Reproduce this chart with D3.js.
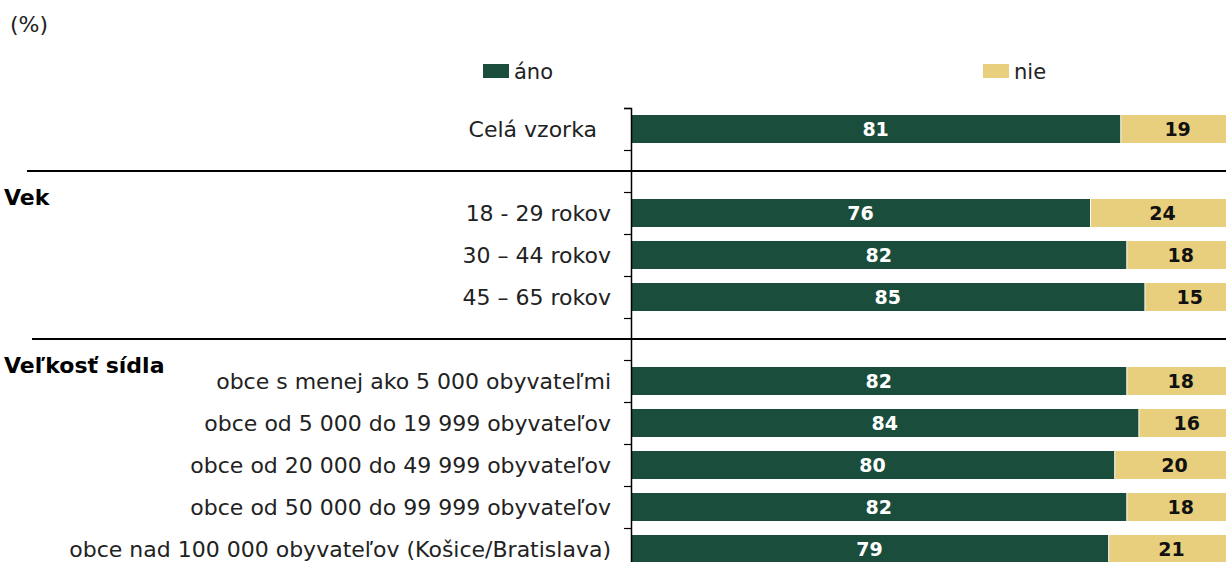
<!DOCTYPE html>
<html lang="sk">
<head>
<meta charset="UTF-8">
<title>áno / nie</title>
<script src="https://cdn.jsdelivr.net/npm/d3@7"></script>
<style>
  body { margin: 0; background: #fff; }
  svg { display: block; font-family: "DejaVu Sans", Verdana, sans-serif; }
  .cat { font-size: 22px; fill: #222; white-space: pre; }
  .grp { font-size: 22px; font-weight: bold; fill: #000; }
  .val { font-size: 19px; font-weight: bold; }
  .leg { font-size: 21px; fill: #222; }
</style>
</head>
<body>
<script>
  // rows of the chart, empty strings are the gaps between groups
  const rows = [
    "Celá vzorka\u00a0\u00a0",
    "",
    "18 - 29 rokov",
    "30 – 44 rokov",
    "45 – 65 rokov",
    "",
    "obce s menej ako 5 000 obyvateľmi",
    "obce od 5 000 do 19 999 obyvateľov",
    "obce od 20 000 do 49 999 obyvateľov",
    "obce od 50 000 do 99 999 obyvateľov",
    "obce nad 100 000 obyvateľov (Košice/Bratislava)"
  ];
  const ano = [81, null, 76, 82, 85, null, 82, 84, 80, 82, 79];
  const nie = [19, null, 24, 18, 15, null, 18, 16, 20, 18, 21];

  const groupLabels = ["Vek", "Veľkosť sídla"];
  const groupRows = [2, 6];      // first row of each group
  const separatorRows = [1, 5];  // gap rows that carry a line

  const seriesNames = ["áno", "nie"];
  const colors = ["#1a4d3c", "#e8cf7e"];

  const W = 1226, H = 562;
  const x0 = 631, yTop = 108, step = 42;

  const svg = d3.select("body").append("svg")
    .attr("width", W)
    .attr("height", H);

  const idx = d3.range(rows.length);

  const x = d3.scaleLinear().domain([0, 100]).range([x0, x0 + 604]);
  const y = d3.scaleBand()
    .domain(idx)
    .range([yTop, yTop + step * rows.length])
    .paddingInner(1 / 3)
    .paddingOuter(1 / 6);
  // same rows as a continuous scale, used for the tick marks on row boundaries
  const yEdge = d3.scaleLinear().domain([0, rows.length]).range([yTop, yTop + step * rows.length]);

  // "(%)"
  svg.append("text")
    .attr("x", 10).attr("y", 32)
    .attr("class", "leg")
    .style("font-size", "22px")
    .text("(%)");

  // legend
  const legX = [483, 983];
  seriesNames.forEach((name, i) => {
    svg.append("rect")
      .attr("x", legX[i]).attr("y", 64)
      .attr("width", 26).attr("height", 14)
      .attr("fill", colors[i]);
    svg.append("text")
      .attr("class", "leg")
      .attr("x", legX[i] + 31).attr("y", 79)
      .text(name);
  });

  // bars
  const data = idx.filter(i => ano[i] != null);
  const rowsG = svg.selectAll(".row")
    .data(data)
    .enter().append("g")
    .attr("class", "row");

  rowsG.append("rect")
    .attr("x", i => x(0))
    .attr("y", i => y(i))
    .attr("width", i => x(ano[i]) - x(0))
    .attr("height", y.bandwidth())
    .attr("fill", colors[0]);

  rowsG.append("rect")
    .attr("x", i => x(ano[i]) + 1)
    .attr("y", i => y(i))
    .attr("width", i => x(ano[i] + nie[i]) - x(ano[i]) - 1)
    .attr("height", y.bandwidth())
    .attr("fill", colors[1]);

  rowsG.append("text")
    .attr("class", "val")
    .attr("x", i => x(ano[i] / 2))
    .attr("y", i => y(i) + y.bandwidth() / 2)
    .attr("text-anchor", "middle")
    .attr("dominant-baseline", "central")
    .attr("fill", "#fff")
    .text(i => ano[i]);

  rowsG.append("text")
    .attr("class", "val")
    .attr("x", i => x(ano[i] + nie[i] / 2))
    .attr("y", i => y(i) + y.bandwidth() / 2)
    .attr("text-anchor", "middle")
    .attr("dominant-baseline", "central")
    .attr("fill", "#111")
    .text(i => nie[i]);

  // category labels
  svg.selectAll(".cat")
    .data(data)
    .enter().append("text")
    .attr("class", "cat")
    .attr("x", x0 - 20)
    .attr("y", i => y(i) + y.bandwidth() / 2)
    .attr("text-anchor", "end")
    .attr("dominant-baseline", "central")
    .text(i => rows[i]);

  // axis with ticks on the row boundaries
  const axis = svg.append("g")
    .attr("transform", `translate(${x0},0)`)
    .call(d3.axisLeft(yEdge).tickValues(d3.range(rows.length + 1)).tickSize(7).tickFormat(""));
  axis.select(".domain").attr("stroke", "#000").attr("stroke-width", 1.5);
  axis.selectAll(".tick line").attr("stroke", "#000").attr("stroke-width", 1.2);

  // group separators
  svg.selectAll(".sep")
    .data(separatorRows)
    .enter().append("line")
    .attr("class", "sep")
    .attr("x1", (d, i) => 27 + i * 5).attr("x2", W)
    .attr("y1", i => y(i) + y.bandwidth() / 2)
    .attr("y2", i => y(i) + y.bandwidth() / 2)
    .attr("stroke", "#000")
    .attr("stroke-width", 2);

  // group labels
  svg.selectAll(".grp")
    .data(groupLabels)
    .enter().append("text")
    .attr("class", "grp")
    .attr("x", 4)
    .attr("y", (d, i) => yEdge(groupRows[i]) + 13)
    .text(d => d);
</script>
</body>
</html>
